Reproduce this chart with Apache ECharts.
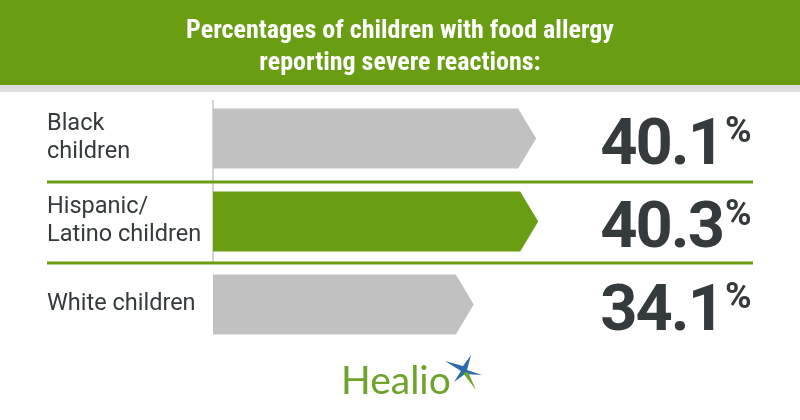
<!DOCTYPE html>
<html>
<head>
<meta charset="utf-8">
<script src="https://cdn.jsdelivr.net/npm/echarts@6/dist/echarts.min.js"></script>
<style>html,body{margin:0;padding:0;background:#fff}#c{width:800px;height:420px}</style>
</head>
<body>
<div id="c"></div>
<script>
const titleText = "Percentages of children with food allergy\nreporting severe reactions:";
const categories = ["Black\nchildren", "Hispanic/\nLatino children", "White children"];
const values = [40.1, 40.3, 34.1];
const highlight = [false, true, false];

const GREEN = "#6a9e12";
const GRAY = "#c1c1c1";
const TEXT = "#353a3c";
const X_MIN = 9;
const NUM_FONT = "bold 65px Roboto, sans-serif";
const TRACK = -2;

const measureCtx = document.createElement('canvas').getContext('2d');
function charWidth(ch, font) { measureCtx.font = font; return measureCtx.measureText(ch).width; }

function numberTexts(str, rightX, y) {
  const out = [];
  let x = rightX;
  for (let i = str.length - 1; i >= 0; i--) {
    out.push({type: 'text', style: {x: x, y: y, text: str[i], textAlign: 'right', textVerticalAlign: 'middle',
      fill: TEXT, font: NUM_FONT}});
    x -= charWidth(str[i], NUM_FONT) + TRACK;
  }
  return out;
}

const chart = echarts.init(document.getElementById('c'), null, {renderer: 'canvas'});
const data = values.map((v, i) => [v, i, highlight[i] ? 1 : 0]);

chart.setOption({
  backgroundColor: '#ffffff',
  animation: false,
  title: {
    text: titleText,
    left: 'center',
    top: 15,
    padding: 0,
    z: 10,
    textStyle: {
      color: '#ffffff',
      fontFamily: "'Roboto Condensed','Liberation Sans Narrow','DejaVu Sans Condensed',sans-serif",
      fontWeight: 'bold',
      fontSize: 26,
      lineHeight: 32
    }
  },
  grid: {left: 213, right: 161, top: 97, height: 249},
  xAxis: {type: 'value', min: X_MIN, max: 50, show: false},
  yAxis: {
    type: 'category',
    inverse: true,
    data: categories,
    axisLine: {show: false},
    axisTick: {show: false},
    splitLine: {show: false},
    axisLabel: {
      align: 'left',
      margin: 166,
      color: TEXT,
      fontFamily: 'Roboto, sans-serif',
      fontSize: 23.5,
      lineHeight: 28,
      padding: [8, 0, 0, 0]
    }
  },
  graphic: [
    {type: 'rect', z: 0, shape: {x: 0, y: 0, width: 800, height: 85}, style: {fill: GREEN}},
    {type: 'rect', z: 0, shape: {x: 0, y: 85, width: 800, height: 7}, style: {fill: '#dddddd'}},
    {type: 'line', z: 0, shape: {x1: 213, y1: 100, x2: 213, y2: 263}, style: {stroke: '#a8a8a8', lineWidth: 1}},
    {type: 'line', z: 0, shape: {x1: 47, y1: 182, x2: 753, y2: 182}, style: {stroke: GREEN, lineWidth: 3}},
    {type: 'line', z: 0, shape: {x1: 47, y1: 263, x2: 753, y2: 263}, style: {stroke: GREEN, lineWidth: 3}},
    {type: 'text', z: 5, style: {x: 341, y: 401, text: 'Healio', fill: '#6fa32b',
      font: "39px Lato, 'Open Sans', sans-serif", textVerticalAlign: 'bottom'}},
    {type: 'polygon', z: 5, shape: {points: [[461,371],[445,361],[463,366],[471,355],[467,370],[482,375],[465,374],[454,382]]},
      style: {fill: '#2d6aa8'}},
    {type: 'polygon', z: 5, shape: {points: [[463,373],[468,372],[476,390]]}, style: {fill: '#6fa32b'}}
  ],
  series: [{
    type: 'custom',
    data: data,
    encode: {x: 0, y: 1},
    renderItem: function (params, api) {
      const v = api.value(0);
      const cat = api.value(1);
      const hl = api.value(2);
      const start = api.coord([X_MIN, cat]);
      const end = api.coord([v, cat]);
      const h = api.size([0, 1])[1] * 0.725;
      const tip = 18;
      const y0 = end[1] - h / 2, y1 = end[1] + h / 2;
      const children = [
        {type: 'polygon', shape: {points: [[start[0], y0], [end[0] - tip, y0], [end[0], end[1]], [end[0] - tip, y1], [start[0], y1]]},
          style: {fill: hl ? GREEN : GRAY}},
        {type: 'text', style: {x: 725, y: end[1] - 24, text: '%', textAlign: 'left', textVerticalAlign: 'top',
          fill: TEXT, font: "bold 36px Roboto, sans-serif"}}
      ];
      return {type: 'group', children: children.concat(numberTexts(v.toFixed(1), 725, end[1] + 9))};
    }
  }]
});
</script>
</body>
</html>
